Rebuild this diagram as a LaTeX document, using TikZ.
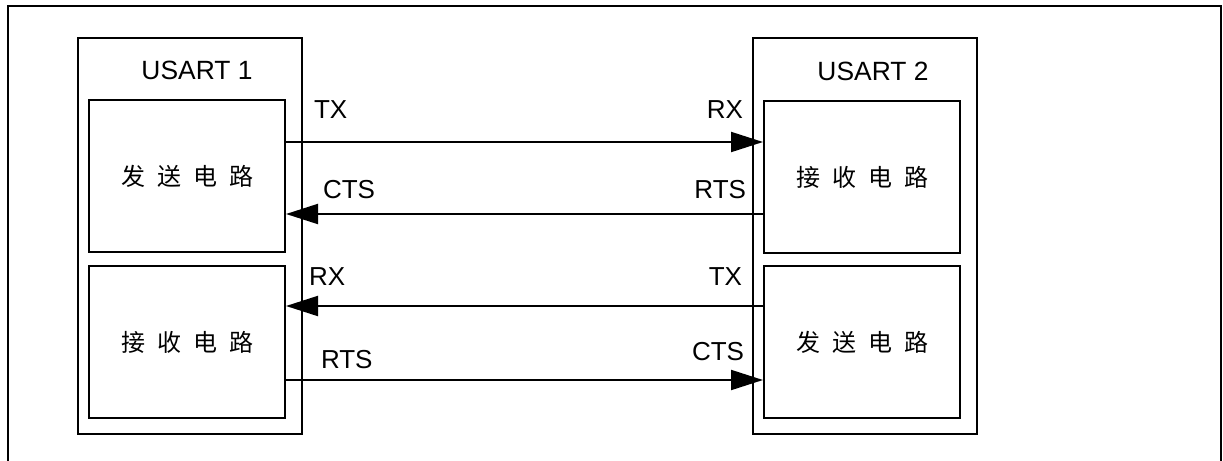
\documentclass[tikz,border=0pt]{standalone}
\usepackage{fontspec}
\setmainfont{Liberation Sans}
\newfontfamily\cjk{Noto Sans CJK SC}
\usetikzlibrary{arrows.meta}

\begin{document}
\begin{tikzpicture}[
    x=0.5pt, y=-0.5pt,
    line width=1pt,
    usart/.style={rectangle, draw, minimum width=112pt, minimum height=198pt},
    unit/.style={rectangle, draw, minimum width=98pt, minimum height=76pt, font=\cjk\fontsize{12pt}{14pt}\selectfont},
    title/.style={font=\fontsize{13.2pt}{16pt}\selectfont, inner sep=0pt},
    sig/.style={font=\fontsize{13pt}{15pt}\selectfont, inner sep=0pt},
    arrow/.style={-{Triangle[length=16pt, width=10pt]}}
]
\useasboundingbox (0,0) rectangle (1223,461);

% frame
\draw (8,461) -- (8,6) -- (1221,6) -- (1221,461);

% USART 1
\node[usart] (usart1) at (189.5,236) {};
\node[title] (name1) at (197,70) {USART 1};
\node[unit] (send1) at (187,176) {发\hspace{6pt}送\hspace{6pt}电\hspace{6pt}路};
\node[unit] (recv1) at (187,342) {接\hspace{6pt}收\hspace{6pt}电\hspace{6pt}路};

% USART 2
\node[usart] (usart2) at (865,236) {};
\node[title] (name2) at (873,71) {USART 2};
\node[unit] (recv2) at (862,177) {接\hspace{6pt}收\hspace{6pt}电\hspace{6pt}路};
\node[unit] (send2) at (862,342) {发\hspace{6pt}送\hspace{6pt}电\hspace{6pt}路};

% signals
\draw[arrow] (send1.east |- 0,142) -- (recv2.west |- 0,142);
\draw[arrow] (recv2.west |- 0,214) -- (send1.east |- 0,214);
\draw[arrow] (send2.west |- 0,306) -- (recv1.east |- 0,306);
\draw[arrow] (recv1.east |- 0,380) -- (send2.west |- 0,380);

\node[sig, anchor=west] (tx1) at (313,110) {TX};
\node[sig, anchor=west] (cts1) at (322,190) {CTS};
\node[sig, anchor=west] (rx1) at (308,277) {RX};
\node[sig, anchor=west] (rts1) at (320,360) {RTS};
\node[sig, anchor=east] (rx2) at (744,110) {RX};
\node[sig, anchor=east] (rts2) at (747,190) {RTS};
\node[sig, anchor=east] (tx2) at (743,277) {TX};
\node[sig, anchor=east] (cts2) at (745,352) {CTS};

\end{tikzpicture}
\end{document}
